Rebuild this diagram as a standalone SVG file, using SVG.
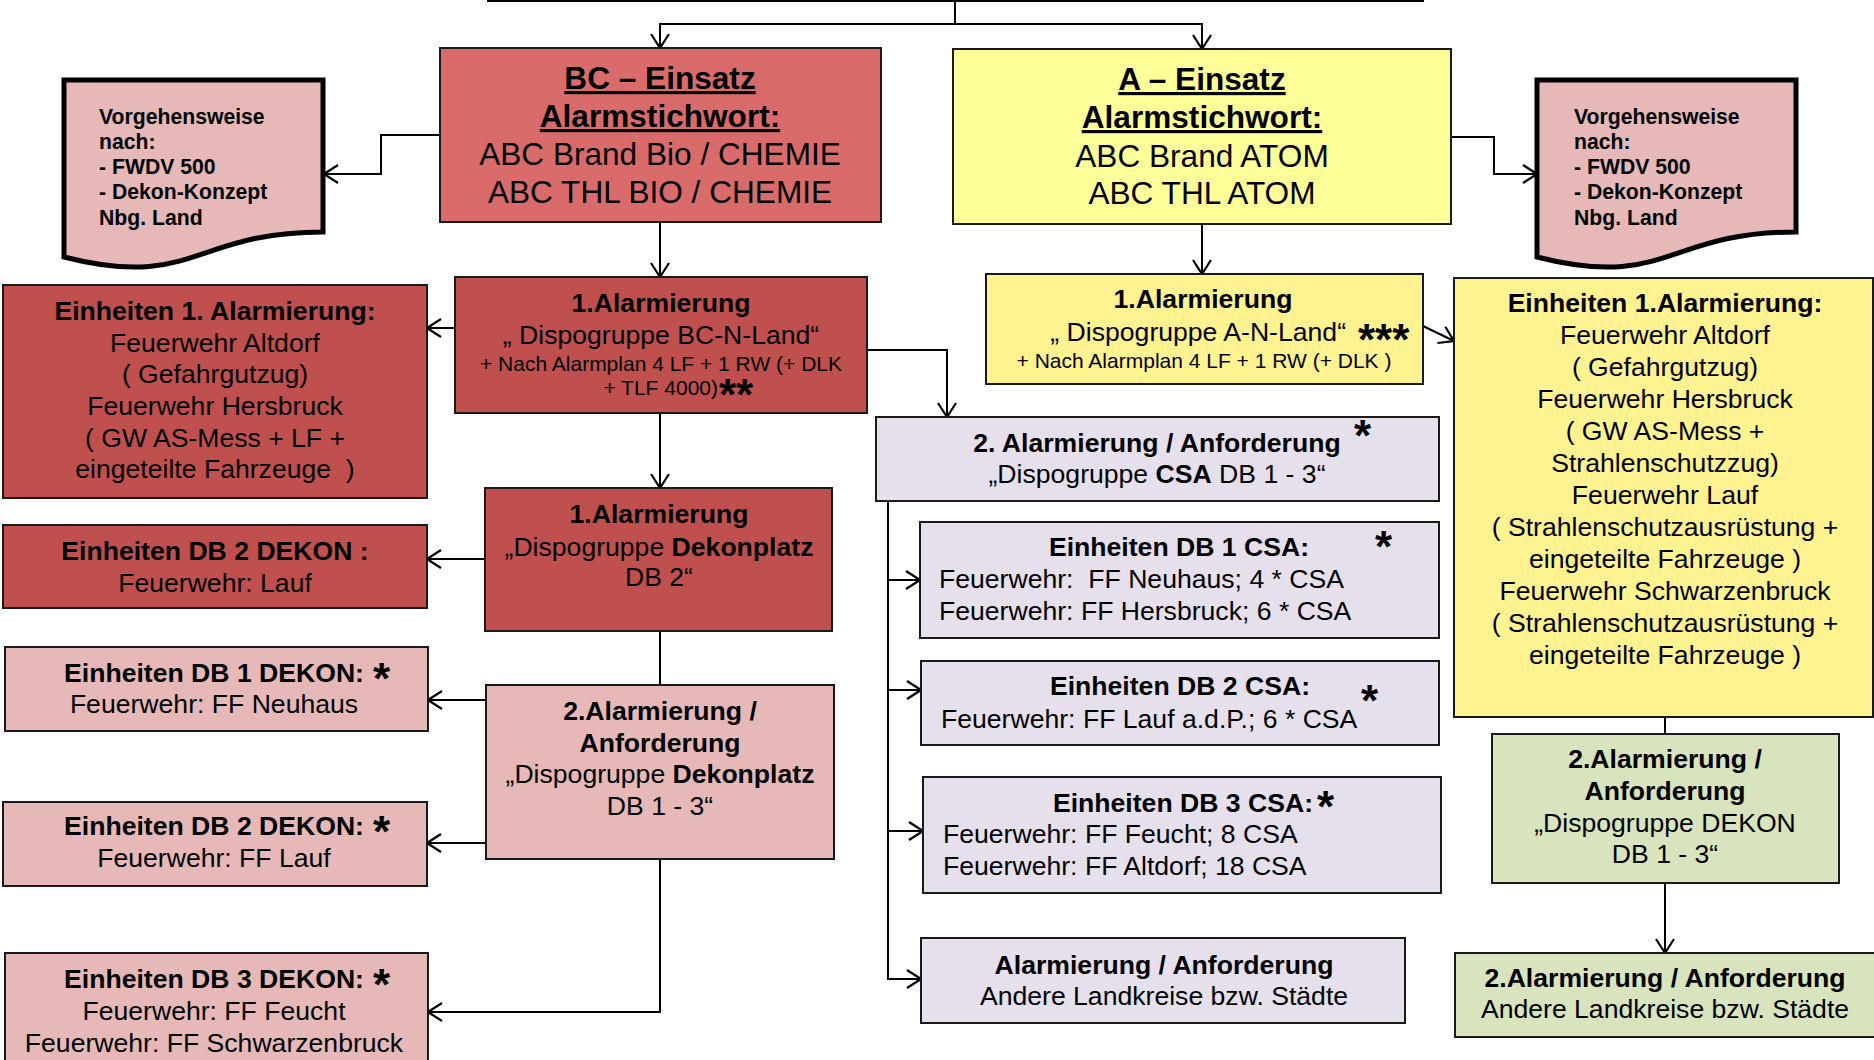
<svg xmlns="http://www.w3.org/2000/svg" width="1874" height="1060" viewBox="0 0 1874 1060">
<defs>
<marker id="arr" viewBox="0 0 16 20" refX="15" refY="10" markerWidth="16" markerHeight="20" markerUnits="userSpaceOnUse" orient="auto">
<path d="M1,1 L15,10 L1,19" fill="none" stroke="#000" stroke-width="2.2"/>
</marker>
<style>
text{font-family:"Liberation Sans",Arial,sans-serif;fill:#000}
.box{stroke:#1a1a1a;stroke-width:2}
.doc{fill:#E6B9B8;stroke:#000;stroke-width:5}
.bcm{fill:#D96B6A}
.dr{fill:#C0504D}
.pk{fill:#E6B9B8}
.ym{fill:#FFFF99}
.yl{fill:#FFF291}
.lv{fill:#E5E0EC}
.gr{fill:#D7E4BD}
.c{text-anchor:middle}
.t31{font-size:31.6px}
.t26{font-size:26.6px}
.t20{font-size:21.2px}
.t21{font-size:21px}
.b{font-weight:bold}
.u{text-decoration:underline}
.st{font-size:44px;font-weight:bold}
.con{fill:none;stroke:#000;stroke-width:2}
.ar{marker-end:url(#arr)}
</style>
</defs>
<rect width="1874" height="1060" fill="#fff"/>

<g id="connectors">
<path class="con" d="M487,1 H1424"/>
<path class="con" d="M955,0 V24"/>
<path class="con ar" d="M955,24 H660 V48"/>
<path class="con ar" d="M955,24 H1202 V49"/>
<path class="con ar" d="M440,135 H381 V174 H324"/>
<path class="con ar" d="M1451,137 H1494 V174 H1537"/>
<path class="con ar" d="M660,222 V277"/>
<path class="con ar" d="M1202,224 V274"/>
<path class="con ar" d="M455,328 H427"/>
<path class="con ar" d="M660,413 V488"/>
<path class="con ar" d="M867,350 H947 V417"/>
<path class="con ar" d="M485,559 H427"/>
<path class="con" d="M660,631 V685"/>
<path class="con ar" d="M486,700 H428"/>
<path class="con ar" d="M486,843 H427"/>
<path class="con ar" d="M660,859 V1012 H428"/>
<path class="con ar" d="M1423,326 L1454,341"/>
<path class="con ar" d="M888,501 V580 H920"/>
<path class="con ar" d="M888,580 V690 H921"/>
<path class="con ar" d="M888,690 V831 H923"/>
<path class="con ar" d="M888,831 V979 H921"/>
<path class="con" d="M1665,717 V734"/>
<path class="con ar" d="M1665,883 V953"/>
</g>

<g id="bc-einsatz">
<rect class="box bcm" x="440" y="48" width="441" height="174"/>
<text class="c t31 b u" x="660" y="89">BC – Einsatz</text>
<text class="c t31 b u" x="660" y="127">Alarmstichwort:</text>
<text class="c t31" x="660" y="165">ABC Brand Bio / CHEMIE</text>
<text class="c t31" x="660" y="203">ABC THL BIO / CHEMIE</text>
</g>

<g id="a-einsatz">
<rect class="box ym" x="953" y="49" width="498" height="175"/>
<text class="c t31 b u" x="1202" y="90">A – Einsatz</text>
<text class="c t31 b u" x="1202" y="128">Alarmstichwort:</text>
<text class="c t31" x="1202" y="167">ABC Brand ATOM</text>
<text class="c t31" x="1202" y="204">ABC THL ATOM</text>
</g>

<g id="doc-left">
<path class="doc" d="M64,80 H323 V232 C193.5,232 193.5,290 64,257 Z"/>
<text class="t20 b" x="99" y="124">Vorgehensweise</text>
<text class="t20 b" x="99" y="149">nach:</text>
<text class="t20 b" x="99" y="174">- FWDV 500</text>
<text class="t20 b" x="99" y="199">- Dekon-Konzept</text>
<text class="t20 b" x="99" y="225">Nbg. Land</text>
</g>

<g id="doc-right">
<path class="doc" d="M1537,80 H1796 V232 C1666.5,232 1666.5,290 1537,257 Z"/>
<text class="t20 b" x="1574" y="124">Vorgehensweise</text>
<text class="t20 b" x="1574" y="149">nach:</text>
<text class="t20 b" x="1574" y="174">- FWDV 500</text>
<text class="t20 b" x="1574" y="199">- Dekon-Konzept</text>
<text class="t20 b" x="1574" y="225">Nbg. Land</text>
</g>

<g id="bc-alarm1">
<rect class="box dr" x="455" y="277" width="412" height="136"/>
<text class="c t26 b" x="661" y="312">1.Alarmierung</text>
<text class="c t26" x="661" y="344">„ Dispogruppe BC-N-Land“</text>
<text class="c t21" x="661" y="371">+ Nach Alarmplan 4 LF + 1 RW (+ DLK</text>
<text class="t21" x="718" y="395" text-anchor="end">+ TLF 4000)</text>
<text class="st" x="719" y="410">**</text>
</g>

<g id="bc-einheiten1">
<rect class="box dr" x="3" y="285" width="424" height="213"/>
<text class="c t26 b" x="215" y="320">Einheiten 1. Alarmierung:</text>
<text class="c t26" x="215" y="352">Feuerwehr Altdorf</text>
<text class="c t26" x="215" y="383">( Gefahrgutzug)</text>
<text class="c t26" x="215" y="415">Feuerwehr Hersbruck</text>
<text class="c t26" x="215" y="447">( GW AS-Mess + LF +</text>
<text class="c t26" x="215" y="478" xml:space="preserve">eingeteilte Fahrzeuge  )</text>
</g>

<g id="bc-db2-dekon">
<rect class="box dr" x="3" y="525" width="424" height="83"/>
<text class="c t26 b" x="215" y="560">Einheiten DB 2 DEKON :</text>
<text class="c t26" x="215" y="592">Feuerwehr: Lauf</text>
</g>

<g id="bc-dekonplatz">
<rect class="box dr" x="485" y="488" width="347" height="143"/>
<text class="c t26 b" x="659" y="523">1.Alarmierung</text>
<text class="c t26" x="659" y="556">„Dispogruppe <tspan class="b">Dekonplatz</tspan></text>
<text class="c t26" x="659" y="586">DB 2“</text>
</g>

<g id="bc-alarm2">
<rect class="box pk" x="486" y="685" width="348" height="174"/>
<text class="c t26 b" x="660" y="720">2.Alarmierung /</text>
<text class="c t26 b" x="660" y="752">Anforderung</text>
<text class="c t26" x="660" y="783">„Dispogruppe <tspan class="b">Dekonplatz</tspan></text>
<text class="c t26" x="660" y="815">DB 1 - 3“</text>
</g>

<g id="db1-dekon">
<rect class="box pk" x="5" y="647" width="423" height="84"/>
<text class="c t26 b" x="214" y="682">Einheiten DB 1 DEKON:</text>
<text class="st" x="373" y="694">*</text>
<text class="c t26" x="214" y="713">Feuerwehr: FF Neuhaus</text>
</g>

<g id="db2-dekon">
<rect class="box pk" x="3" y="802" width="424" height="84"/>
<text class="c t26 b" x="214" y="835">Einheiten DB 2 DEKON:</text>
<text class="st" x="373" y="847">*</text>
<text class="c t26" x="214" y="867">Feuerwehr: FF Lauf</text>
</g>

<g id="db3-dekon">
<rect class="box pk" x="5" y="953" width="423" height="120"/>
<text class="c t26 b" x="214" y="988">Einheiten DB 3 DEKON:</text>
<text class="st" x="373" y="1000">*</text>
<text class="c t26" x="214" y="1020">Feuerwehr: FF Feucht</text>
<text class="c t26" x="214" y="1052">Feuerwehr: FF Schwarzenbruck</text>
</g>

<g id="a-alarm1">
<rect class="box yl" x="986" y="274" width="437" height="110"/>
<text class="c t26 b" x="1203" y="308">1.Alarmierung</text>
<text class="t26" x="1346" y="341" text-anchor="end">„ Dispogruppe A-N-Land“</text>
<text class="st" x="1358" y="355">***</text>
<text class="c t21" x="1204" y="368">+ Nach Alarmplan 4 LF + 1 RW (+ DLK )</text>
</g>

<g id="a-einheiten1">
<rect class="box yl" x="1454" y="278" width="419" height="439"/>
<text class="c t26 b" x="1665" y="312">Einheiten 1.Alarmierung:</text>
<text class="c t26" x="1665" y="344">Feuerwehr Altdorf</text>
<text class="c t26" x="1665" y="376">( Gefahrgutzug)</text>
<text class="c t26" x="1665" y="408">Feuerwehr Hersbruck</text>
<text class="c t26" x="1665" y="440">( GW AS-Mess +</text>
<text class="c t26" x="1665" y="472">Strahlenschutzzug)</text>
<text class="c t26" x="1665" y="504">Feuerwehr Lauf</text>
<text class="c t26" x="1665" y="536">( Strahlenschutzausrüstung +</text>
<text class="c t26" x="1665" y="568">eingeteilte Fahrzeuge )</text>
<text class="c t26" x="1665" y="600">Feuerwehr Schwarzenbruck</text>
<text class="c t26" x="1665" y="632">( Strahlenschutzausrüstung +</text>
<text class="c t26" x="1665" y="664">eingeteilte Fahrzeuge )</text>
</g>

<g id="csa-alarm2">
<rect class="box lv" x="876" y="417" width="563" height="84"/>
<text class="c t26 b" x="1157" y="452">2. Alarmierung / Anforderung</text>
<text class="st" x="1354" y="451">*</text>
<text class="c t26" x="1157" y="483">„Dispogruppe <tspan class="b">CSA</tspan> DB 1 - 3“</text>
</g>

<g id="db1-csa">
<rect class="box lv" x="920" y="522" width="519" height="116"/>
<text class="c t26 b" x="1179" y="556">Einheiten DB 1 CSA:</text>
<text class="st" x="1375" y="562">*</text>
<text class="t26" x="939" y="588" xml:space="preserve">Feuerwehr:  FF Neuhaus; 4 * CSA</text>
<text class="t26" x="939" y="620">Feuerwehr: FF Hersbruck; 6 * CSA</text>
</g>

<g id="db2-csa">
<rect class="box lv" x="921" y="661" width="518" height="84"/>
<text class="c t26 b" x="1180" y="695">Einheiten DB 2 CSA:</text>
<text class="st" x="1361" y="716">*</text>
<text class="t26" x="941" y="728">Feuerwehr: FF Lauf a.d.P.; 6 * CSA</text>
</g>

<g id="db3-csa">
<rect class="box lv" x="923" y="777" width="518" height="116"/>
<text class="c t26 b" x="1183" y="812">Einheiten DB 3 CSA:</text>
<text class="st" x="1317" y="822">*</text>
<text class="t26" x="943" y="843">Feuerwehr: FF Feucht; 8 CSA</text>
<text class="t26" x="943" y="875">Feuerwehr: FF Altdorf; 18 CSA</text>
</g>

<g id="andere-csa">
<rect class="box lv" x="921" y="938" width="484" height="85"/>
<text class="c t26 b" x="1164" y="974">Alarmierung / Anforderung</text>
<text class="c t26" x="1164" y="1005">Andere Landkreise bzw. Städte</text>
</g>

<g id="a-dekon2">
<rect class="box gr" x="1492" y="734" width="347" height="149"/>
<text class="c t26 b" x="1665" y="768">2.Alarmierung /</text>
<text class="c t26 b" x="1665" y="800">Anforderung</text>
<text class="c t26" x="1665" y="832">„Dispogruppe DEKON</text>
<text class="c t26" x="1665" y="863">DB 1 - 3“</text>
</g>

<g id="a-andere">
<rect class="box gr" x="1455" y="953" width="430" height="84"/>
<text class="c t26 b" x="1665" y="987">2.Alarmierung / Anforderung</text>
<text class="c t26" x="1665" y="1018">Andere Landkreise bzw. Städte</text>
</g>
</svg>
